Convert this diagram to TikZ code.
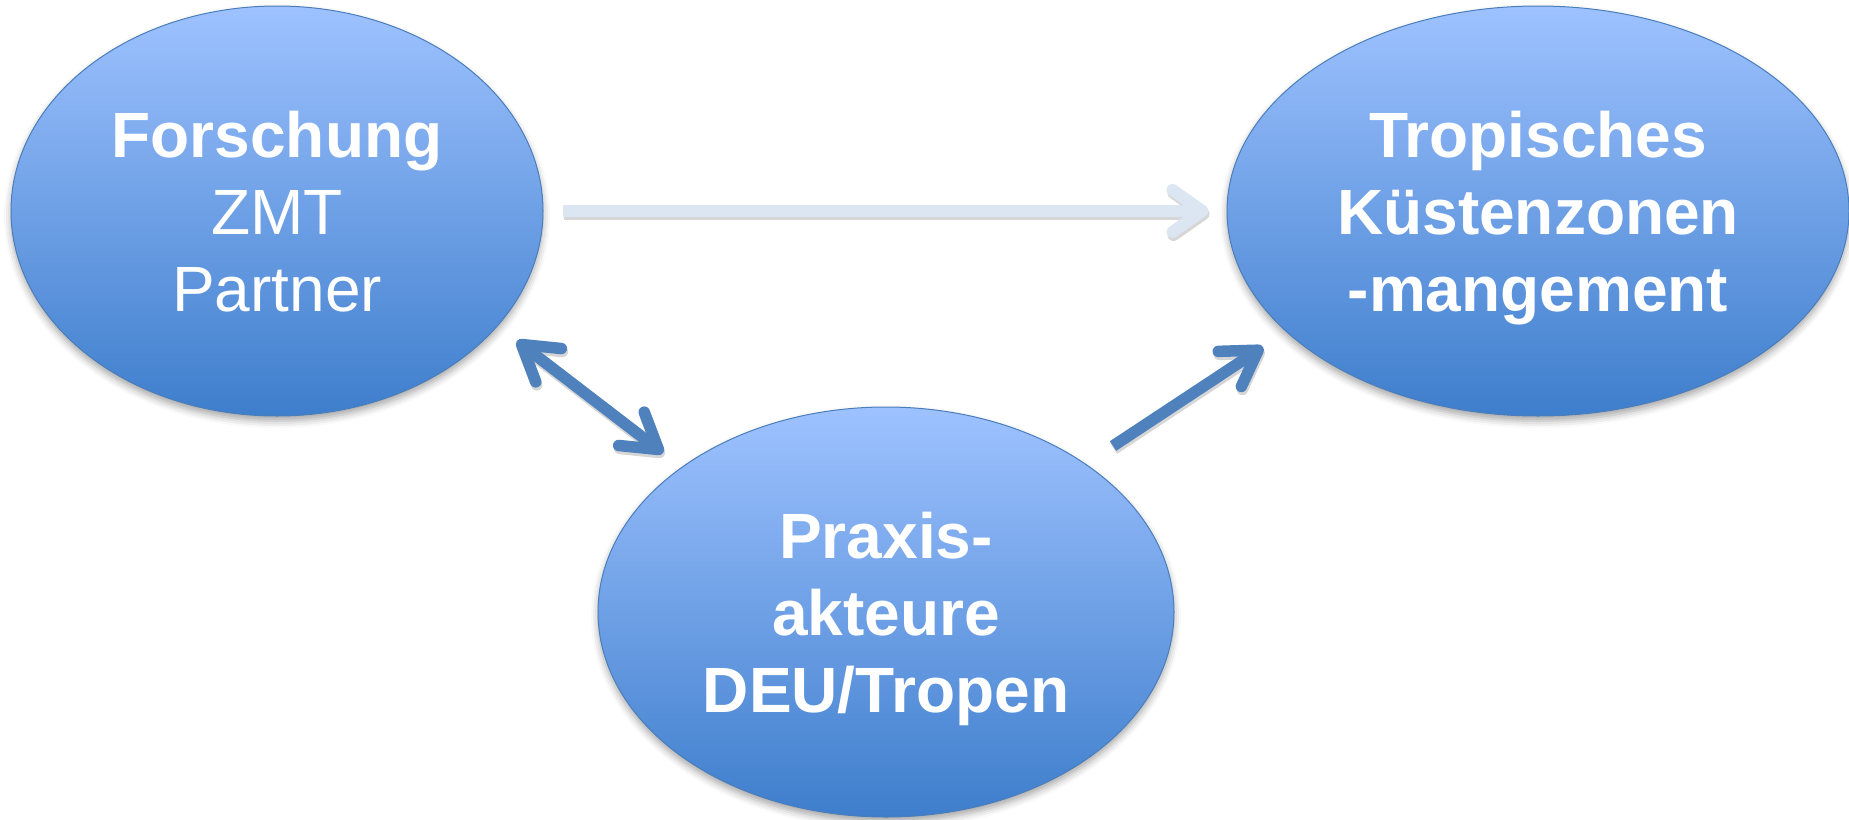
\documentclass[tikz,border=0pt]{standalone}
\usepackage{fontspec}
\setmainfont{Liberation Sans}
\usetikzlibrary{arrows.meta,shapes.geometric,shadows.blur}
\definecolor{elltop}{RGB}{158,194,255}
\definecolor{ellbot}{RGB}{62,126,204}
\definecolor{ellline}{RGB}{74,126,187}
\definecolor{darkarrow}{RGB}{79,129,189}
\definecolor{lightarrow}{RGB}{220,230,242}
\tikzset{
  bubble/.style={ellipse, draw=ellline, line width=1pt, top color=elltop, bottom color=ellbot,
    inner sep=0pt, text=white, align=center, text depth=0pt,
    font=\fontsize{64}{77}\selectfont\bfseries,
    blur shadow={shadow xshift=0pt, shadow yshift=-5pt, shadow blur radius=7pt, shadow opacity=35}},
  barbtip/.tip={Straight Barb[length=34pt, width=42pt, round]},
  lighttip/.tip={Straight Barb[length=30pt, width=42pt, round]},
  darkconn/.style={draw=darkarrow, line width=11.5pt},
  lightconn/.style={draw=lightarrow, line width=12pt},
  shadowconn/.style={draw=black, opacity=0.16, transform canvas={yshift=-3pt, xshift=1pt}}
}
\begin{document}
\begin{tikzpicture}[x=1pt, y=-1pt]
\useasboundingbox (0,0) rectangle (1849,819);
\node[bubble, minimum width=532pt, minimum height=410pt] (F) at (277,211)
  {Forschung\\\mdseries ZMT\\\mdseries Partner};
\node[bubble, minimum width=622pt, minimum height=410pt] (R) at (1538,211)
  {Tropisches\\Küstenzonen\\-mangement};
\node[bubble, minimum width=576pt, minimum height=410pt] (B) at (886,612)
  {Praxis-\\akteure\\DEU/Tropen};
\coordinate (d1) at (517,341);
\coordinate (d2) at (663,453);
\coordinate (e1) at (1113,446);
\coordinate (e2) at (1263,347);
% shadows of the connectors
\draw[lightconn, shadowconn, shorten <=19pt, shorten >=18pt, -{lighttip}] (F) -- (R);
\draw[darkconn, shadowconn, {barbtip}-{barbtip}] (d1) -- (d2);
\draw[darkconn, shadowconn, -{barbtip}] (e1) -- (e2);
% connectors
\draw[lightconn, shorten <=19pt, shorten >=18pt, -{lighttip}] (F) -- (R);
\draw[darkconn, {barbtip}-{barbtip}] (d1) -- (d2);
\draw[darkconn, -{barbtip}] (e1) -- (e2);
\end{tikzpicture}
\end{document}
